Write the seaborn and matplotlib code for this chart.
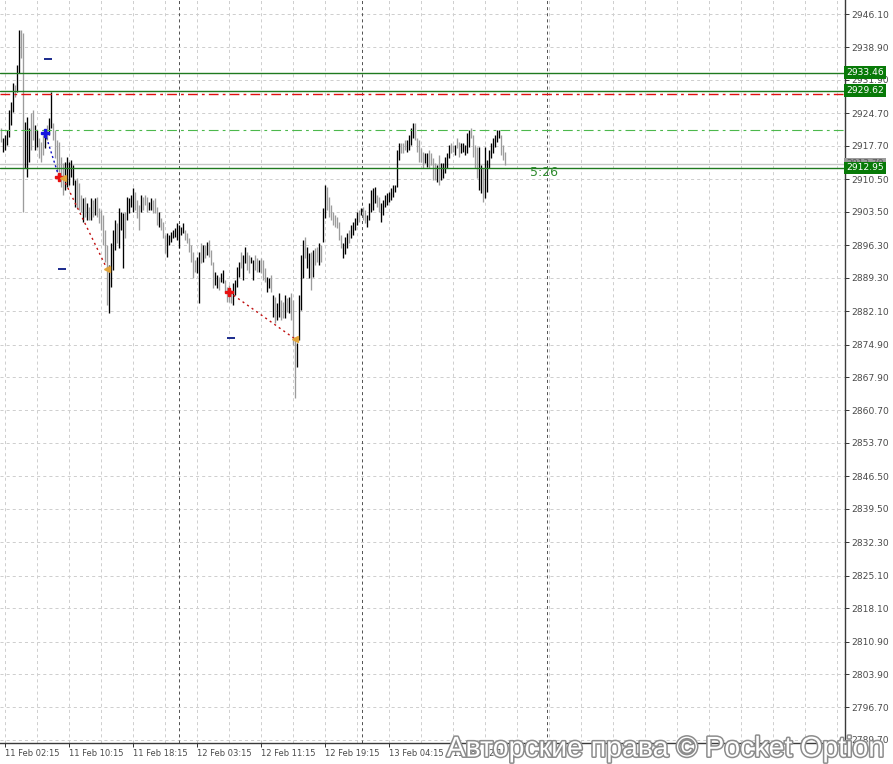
import numpy as np
import pandas as pd
import matplotlib
matplotlib.use("Agg")
import matplotlib.pyplot as plt
import matplotlib.patheffects as pe
import seaborn as sns

# ---------------- data (M15 bars) ----------------
highs = [
    2921.5, 2919.4, 2920.0, 2921.1, 2925.4, 2927.1, 2931.2, 2930.8, 2935.1, 2942.7,
    2942.7, 2942.0, 2922.8, 2923.9, 2921.5, 2924.8, 2925.4, 2922.2, 2921.1, 2919.4,
    2918.5, 2920.0, 2920.5, 2922.2, 2923.7, 2929.3, 2922.6, 2921.1, 2919.0, 2918.5,
    2915.3, 2914.0, 2914.2, 2915.3, 2914.2,
    2914.7, 2913.6, 2910.3, 2910.8, 2909.7, 2907.1, 2906.5, 2906.7, 2905.4, 2904.5,
    2906.5, 2906.0, 2906.5, 2906.7, 2904.3, 2903.9, 2902.8, 2899.6, 2896.3, 2892.0,
    2896.8, 2899.6, 2901.7, 2901.1, 2904.3, 2903.4, 2903.2, 2903.4, 2906.7, 2906.5,
    2907.1, 2908.6, 2907.8, 2906.0, 2905.0, 2907.1, 2906.7, 2907.1, 2906.7, 2905.6,
    2906.5, 2906.0, 2906.5, 2904.5, 2903.4,
    2902.2, 2901.3, 2898.5, 2898.9, 2898.5, 2899.1, 2899.6, 2900.0, 2901.1, 2900.6,
    2900.2, 2901.1, 2899.6, 2898.9, 2897.8, 2896.3, 2894.8, 2893.1, 2893.8, 2894.8,
    2896.8, 2896.3, 2896.3, 2897.0, 2897.4, 2895.3, 2892.7, 2890.5, 2889.9, 2889.4,
    2890.3, 2891.0, 2888.8, 2887.3, 2887.7, 2886.6, 2888.2, 2888.8, 2891.6, 2892.7,
    2894.8, 2894.2, 2895.9, 2894.8, 2894.2, 2893.8, 2893.1, 2894.2, 2893.5, 2893.1,
    2893.5, 2893.1, 2891.4, 2889.4, 2889.2, 2889.9, 2885.6, 2885.1, 2883.8, 2886.0,
    2884.5, 2884.1, 2885.6, 2884.9, 2885.1, 2886.0, 2884.5, 2876.3, 2875.2, 2885.6,
    2894.2, 2897.4, 2898.1, 2895.9, 2894.6, 2894.8, 2895.3, 2895.7, 2895.9, 2896.8,
    2896.3, 2904.3, 2909.3, 2908.8, 2906.7, 2905.0, 2903.4, 2902.8, 2902.4, 2901.3,
    2898.5, 2896.8, 2898.1, 2898.9, 2899.6, 2900.6, 2901.3, 2902.2, 2903.4, 2903.9,
    2904.3, 2904.5, 2903.9, 2902.8, 2905.4, 2908.2, 2908.6, 2908.8, 2907.1, 2906.7,
    2905.4, 2906.0, 2907.1, 2907.5, 2907.8, 2908.6, 2909.3, 2909.3,
    2916.8, 2918.3, 2918.3, 2918.3, 2919.0, 2919.0, 2920.0, 2921.5, 2922.6, 2922.6,
    2919.4, 2919.0, 2917.2, 2916.4, 2916.2, 2916.2, 2916.8, 2916.2, 2915.1, 2914.0,
    2913.6, 2915.7, 2914.0, 2914.0, 2915.3, 2916.2, 2917.9, 2918.3, 2917.9, 2917.9,
    2919.4, 2918.5, 2918.3, 2918.3, 2917.9, 2920.5, 2921.1, 2921.5, 2920.0, 2917.9,
    2917.5, 2917.5, 2913.6, 2912.9, 2917.5, 2914.7, 2916.8, 2918.3, 2919.4, 2920.0,
    2921.1, 2921.1, 2920.0, 2917.9, 2916.4,
]
lows = [
    2918.5, 2916.4, 2916.8, 2917.9, 2919.6, 2922.2, 2925.0, 2928.2, 2929.3, 2933.4,
    2936.6, 2903.4, 2912.9, 2911.0, 2914.2, 2916.8, 2919.0, 2916.8, 2917.5, 2915.1,
    2914.2, 2915.7, 2917.2, 2919.0, 2920.0, 2921.5, 2919.0, 2915.1, 2912.1, 2912.1,
    2908.8, 2907.1, 2908.2, 2908.8, 2909.3,
    2911.0, 2909.3, 2904.5, 2904.3, 2903.9, 2903.4, 2901.3, 2902.4, 2901.7, 2901.7,
    2901.7, 2902.4, 2902.8, 2902.4, 2901.1, 2899.6, 2896.3, 2892.7, 2883.4, 2881.7,
    2887.3, 2891.0, 2895.3, 2896.8, 2895.7, 2899.6, 2891.4, 2897.8, 2901.7, 2903.2,
    2904.5, 2903.4, 2903.9, 2902.2, 2899.6, 2903.4, 2903.9, 2905.0, 2903.4, 2903.9,
    2903.9, 2903.2, 2903.2, 2900.6, 2900.2,
    2899.6, 2897.8, 2894.6, 2893.8, 2896.3, 2897.0, 2897.8, 2898.1, 2897.4, 2895.7,
    2898.5, 2898.9, 2897.4, 2896.8, 2894.8, 2892.7, 2889.2, 2890.5, 2890.3, 2883.8,
    2892.5, 2892.7, 2893.5, 2894.2, 2893.8, 2892.0, 2887.1, 2887.7, 2887.1, 2886.6,
    2888.4, 2888.2, 2886.2, 2884.1, 2884.1, 2883.8, 2883.4, 2885.6, 2887.3, 2889.4,
    2891.4, 2888.8, 2892.5, 2891.0, 2890.3, 2892.5, 2888.8, 2891.0, 2890.5, 2890.5,
    2890.3, 2888.8, 2888.4, 2886.2, 2887.1, 2886.2, 2880.8, 2879.5, 2880.2, 2880.8,
    2880.2, 2880.6, 2880.6, 2881.9, 2881.7, 2880.2, 2874.8, 2863.4, 2870.1, 2875.9,
    2882.3, 2889.2, 2893.5, 2891.4, 2889.2, 2886.6, 2889.4, 2892.0, 2892.7, 2892.0,
    2892.7, 2897.0, 2902.2, 2903.9, 2902.4, 2901.7, 2900.6, 2900.2, 2900.0, 2897.4,
    2895.7, 2893.5, 2894.4, 2895.7, 2896.8, 2897.8, 2898.5, 2899.6, 2900.6, 2901.3,
    2902.8, 2901.7, 2901.1, 2900.2, 2901.7, 2903.4, 2903.9, 2905.4, 2904.5, 2903.4,
    2901.3, 2902.8, 2904.5, 2905.0, 2905.6, 2906.0, 2906.7, 2907.8,
    2908.8, 2914.7, 2916.2, 2916.2, 2916.8, 2916.4, 2916.8, 2917.9, 2919.4, 2919.0,
    2916.4, 2914.2, 2914.2, 2912.9, 2914.0, 2913.1, 2912.9, 2913.6, 2910.3, 2910.3,
    2909.9, 2909.3, 2910.3, 2910.8, 2911.9, 2912.9, 2915.1, 2916.2, 2916.4, 2915.7,
    2917.2, 2915.3, 2916.2, 2916.4, 2915.7, 2916.2, 2917.5, 2919.4, 2915.3, 2912.9,
    2910.8, 2908.2, 2907.5, 2905.6, 2906.5, 2907.8, 2912.9, 2915.1, 2916.2, 2917.5,
    2918.5, 2919.4, 2915.7, 2914.7, 2913.6,
]
# 1 = rising bar (black), 0 = falling bar (grey)
rising = [
    0, 1, 1, 1, 1, 1, 1, 0, 1, 1, 0, 0, 1, 1, 1, 0, 0, 1, 1, 0, 0, 0, 1, 0, 1, 1, 0, 0, 0, 0, 0, 0, 1, 1, 1,
    1, 1, 1, 0, 0, 0, 1, 0, 1, 0, 1, 0, 1, 0, 0, 0, 0, 0, 0, 1, 1, 1, 1, 0, 1, 1, 1, 0, 1, 1, 1, 1, 0, 0, 0,
    1, 0, 0, 0, 1, 1, 0, 0, 0, 1,
    0, 0, 0, 1, 1, 1, 1, 1, 1, 1,
    1, 1, 0, 0, 0, 0, 0, 0, 1, 1,
    0, 1, 0, 1, 0, 0, 0, 1, 1, 0,
    1, 1, 0, 0, 0, 0, 1, 1, 1, 1,
    0, 1, 1, 0, 0, 1, 1, 0, 0, 1,
    0, 0, 0, 1, 1, 0, 1, 0, 1, 1,
    0, 0, 1, 0, 1, 0, 0, 0, 1, 1,
    1, 1, 0, 1, 1, 0, 1, 0, 0, 1,
    0, 1, 1, 0, 0, 0, 0, 0, 0, 0,
    0, 1, 1, 1, 0, 1, 1, 1, 1, 0,
    1, 0, 0, 1, 1, 1, 1, 1, 0, 0,
    1, 1, 1, 1, 1, 1, 1, 1,
    1, 1, 0, 0, 0, 1, 1, 1, 1, 0,
    0, 0, 0, 0, 1, 1, 0, 0, 0, 0,
    1, 0, 1, 1, 1, 1, 1, 0, 0, 1,
    0, 0, 1, 1, 1, 1, 1, 0, 0, 0,
    0, 1, 1, 0, 1, 1, 1, 1, 1, 1,
    1, 1, 0, 0, 0,
]

y_ticks = [2946.10, 2938.90, 2931.90, 2924.70, 2917.70, 2910.50, 2903.50, 2896.30,
           2889.30, 2882.10, 2874.90, 2867.90, 2860.70, 2853.70, 2846.50, 2839.50,
           2832.30, 2825.10, 2818.10, 2810.90, 2803.90, 2796.70, 2789.70]
x_tick_bars = [2, 34, 66, 98, 130, 162, 194, 226]
x_tick_labels = ["11 Feb 02:15", "11 Feb 10:15", "11 Feb 18:15", "12 Feb 03:15",
                 "12 Feb 11:15", "12 Feb 19:15", "13 Feb 04:15", "13 Feb 12:15"]
day_separators = [89, 180.5, 273]

level_green = [2933.46, 2929.62, 2912.95]
level_red_dashdot = 2928.9
level_green_dashdot = 2921.1
bid_price = 2913.79

# zigzag / signal markers (bar index, price)
blue_leg_x, blue_leg_y = [22, 29], [2920.5, 2911.0]
red_leg1_x, red_leg1_y = [31, 53], [2910.8, 2891.2]
red_leg2_x, red_leg2_y = [114, 147], [2886.2, 2876.1]
cross_blue = (22, 2920.5)
cross_red_x, cross_red_y = [29, 114], [2911.0, 2886.2]
tri_x, tri_y = [31, 53, 147], [2910.8, 2891.2, 2876.1]
dash_x, dash_y = [23.25, 30.5, 115], [2936.4, 2891.2, 2876.3]

# ---------------- figure ----------------
sns.set_theme(style="white")
plt.rcParams["lines.scale_dashes"] = False
plt.rcParams["font.family"] = ["DejaVu Sans"]

W, H = 893, 764
fig = plt.figure(figsize=(W / 100, H / 100), dpi=100)
fig.patch.set_facecolor("white")
ax = fig.add_axes([0, 21 / H, 845 / W, 743 / H])
ax.set_facecolor("white")

n = min(len(highs), len(lows), len(rising))
df = pd.DataFrame({"bar": np.arange(n), "high": highs[:n], "low": lows[:n],
                   "rising": rising[:n]})

ax.set_xlim(-0.5, 422.0)
ax.set_ylim(2789.05, 2949.12)

px = 0.72  # one pixel in points
grid_kw = dict(color="#cfcfcf", lw=px, ls=(0, (2.2, 2.2)), zorder=0)
for y in y_ticks:
    ax.axhline(y, **grid_kw)
for xg in np.arange(2, 423, 16):
    ax.axvline(xg, **grid_kw)
for xs in day_separators:
    ax.axvline(xs, color="#555555", lw=px, ls=(0, (2.2, 2.2)), zorder=0.5)

# bars (thin vertical lines)
up = df[df.rising == 1]
dn = df[df.rising == 0]
ax.vlines(dn.bar, dn.low, dn.high, colors="#9c9c9c", lw=0.95, antialiased=True, zorder=2)
ax.vlines(up.bar, up.low, up.high, colors="#000000", lw=0.95, antialiased=True, zorder=2.1)

# horizontal levels
for lv in level_green:
    ax.axhline(lv, color="#1f7a1f", lw=1.0, zorder=3)
ax.axhline(level_red_dashdot, color="#e01010", lw=1.0, ls=(0, (7, 3, 2, 3)), zorder=3)
ax.axhline(level_green_dashdot, color="#4cb84c", lw=0.8, ls=(0, (7, 3, 2, 3)), zorder=3)
ax.axhline(bid_price, color="#c8c8c8", lw=1.0, zorder=1)

# zigzag legs via seaborn
sns.lineplot(x=blue_leg_x, y=blue_leg_y, ax=ax, color="#1010c0", lw=1.0,
             linestyle=(0, (1.5, 2.0)), zorder=4)
sns.lineplot(x=red_leg1_x, y=red_leg1_y, ax=ax, color="#c01010", lw=1.0,
             linestyle=(0, (1.5, 2.5)), zorder=4)
sns.lineplot(x=red_leg2_x, y=red_leg2_y, ax=ax, color="#c01010", lw=1.0,
             linestyle=(0, (1.5, 2.5)), zorder=4)

ax.plot([cross_blue[0]], [cross_blue[1]], marker="P", ms=6, color="#1515e0", mec="#1515e0", zorder=5)
ax.plot(cross_red_x, cross_red_y, ls="none", marker="P", ms=6, color="#e81010", mec="#e81010", zorder=5)
ax.plot(tri_x, tri_y, ls="none", marker="<", ms=5, color="#e2a53a", mec="#e2a53a", zorder=5)
ax.plot(dash_x, dash_y, ls="none", marker="_", ms=5.5, mew=1.4, color="#1a2a8c", zorder=5)

# timer text
ax.text(264.5, 2911.85, "5:26", color="#2e8b2e", fontsize=9, va="center", ha="left", zorder=6)

# axes styling
for s in ["left", "top"]:
    ax.spines[s].set_visible(False)
for s in ["right", "bottom"]:
    ax.spines[s].set_visible(True)
    ax.spines[s].set_color("#3a3a3a")
    ax.spines[s].set_linewidth(px * 1.4)

ax.yaxis.tick_right()
ax.set_yticks(y_ticks)
ax.set_yticklabels([f"{v:.2f}" for v in y_ticks])
ax.tick_params(axis="y", which="major", right=True, left=False, direction="out",
               length=3, width=px, pad=1.5, labelsize=6.6, colors="#3a3a3a",
               labelcolor="#4a4a4a")
ax.set_xticks(x_tick_bars)
ax.set_xticklabels(x_tick_labels)
ax.tick_params(axis="x", which="major", bottom=True, direction="out", length=3,
               width=px, pad=1.5, labelsize=6.0, colors="#3a3a3a", labelcolor="#4a4a4a")
for lab in ax.get_xticklabels():
    lab.set_ha("left")
ax.set_xlabel("")
ax.set_ylabel("")
ax.grid(False)

# price labels on the right axis
ax.text(1.0015, bid_price, f"{bid_price:.2f}", transform=ax.get_yaxis_transform(),
        ha="left", va="center", fontsize=6.6, color="#555555", clip_on=False, zorder=7,
        bbox=dict(boxstyle="square,pad=0.2", fc="#9a9a9a", ec="none"))
for lv in level_green:
    ax.text(1.0015, lv, f"{lv:.2f}", transform=ax.get_yaxis_transform(),
            ha="left", va="center", fontsize=6.6, color="white", clip_on=False, zorder=8,
            bbox=dict(boxstyle="square,pad=0.2", fc="#087a08", ec="none"))

# watermark
fig.text(0.991, 0.002, "Авторские права © Pocket Option", ha="right", va="bottom",
         fontsize=20.5, family=["Liberation Sans", "DejaVu Sans"], color="white",
         path_effects=[pe.withStroke(linewidth=2.2, foreground="#8c8c8c")], zorder=20)

fig.savefig("out.png", dpi=100, facecolor="white")
